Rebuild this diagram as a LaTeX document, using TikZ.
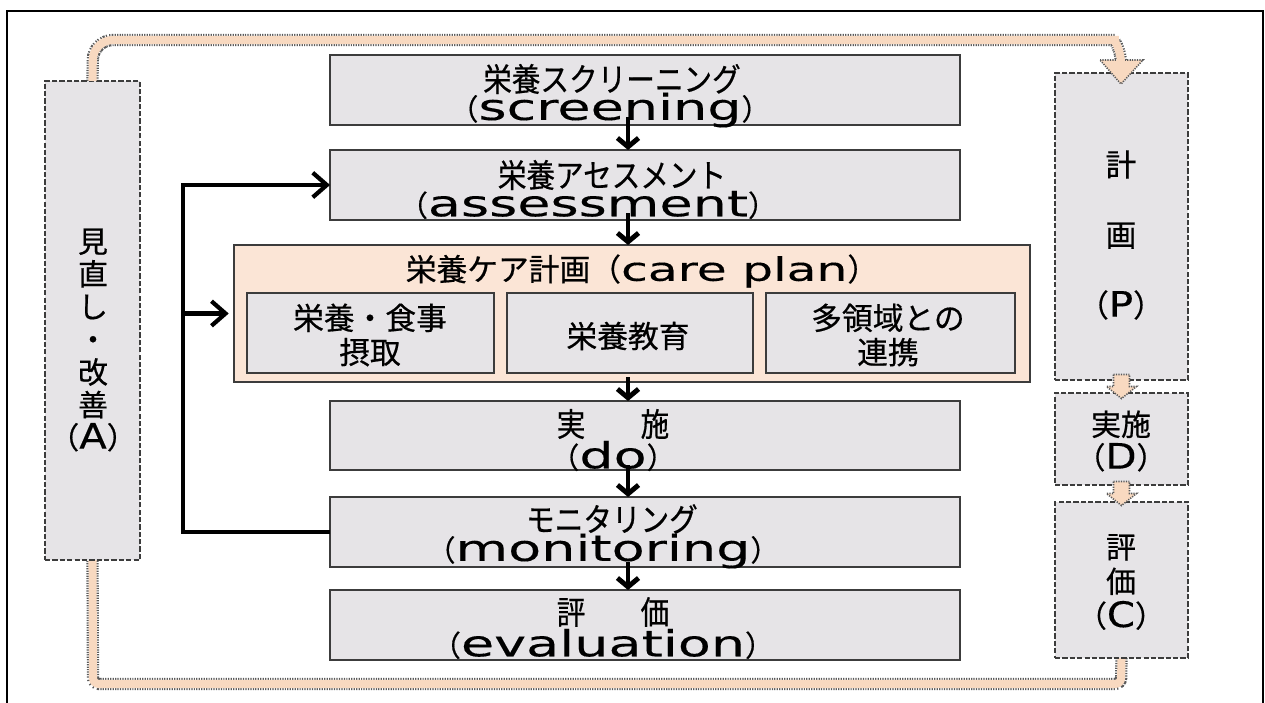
\documentclass[tikz,border=0pt]{standalone}
\usepackage{fontspec}
\setmainfont{Noto Sans CJK JP}[FakeBold=0.5]
\newfontfamily\jpn{Noto Sans CJK JP}[FakeBold=0.5,FakeStretch=0.88]
\newfontfamily\lat{DejaVu Sans}[FakeBold=0.3,FakeStretch=1.15]
\newfontfamily\latw{DejaVu Sans}[FakeBold=0.3,FakeStretch=1.5]
\newcommand\Lt[1]{{\lat\fontsize{20}{20}\selectfont #1}}
\newcommand\Lw[1]{{\latw\fontsize{20.5}{20.5}\selectfont #1}}
\newcommand\Ls[1]{{\latw\fontsize{18.5}{18.5}\selectfont #1}}
\usetikzlibrary{arrows.meta,calc,fit}
\definecolor{boxgray}{HTML}{E6E4E7}
\definecolor{peach}{HTML}{FBE5D6}
\definecolor{loopfill}{HTML}{F8D9C0}
\definecolor{edge}{HTML}{3C3C3C}
\definecolor{dotc}{HTML}{5A5A5A}
\pgfdeclarelayer{bg}
\pgfsetlayers{bg,main}
\begin{document}
\begin{tikzpicture}[x=0.02cm,y=-0.02cm,
  box/.style={draw=edge,line width=1.2pt,fill=boxgray,inner sep=0pt,outer sep=0pt},
  dbox/.style={draw=edge,line width=0.9pt,dash pattern=on 3pt off 1.2pt,fill=boxgray,inner sep=0pt,outer sep=0pt},
  cbox/.style={draw=edge,line width=1pt,fill=peach,inner sep=0pt,outer sep=0pt},
  txt/.style={font=\fontsize{16.5}{18.8}\selectfont,align=center,inner sep=0pt},
  head1/.style={txt,font=\jpn\fontsize{18.5}{20}\selectfont},
  down/.style={line width=2.8pt,-{Straight Barb[length=5pt,width=12pt]}},
  fbarrow/.style={line width=2.4pt,line join=miter,-{Straight Barb[length=8pt,width=14pt]}},
  loopout/.style={draw=dotc,line width=7pt,dash pattern=on 0.7pt off 0.7pt},
  loopin/.style={draw=loopfill,line width=4.6pt},
  headstyle/.style={fill=loopfill,draw=dotc,line width=0.9pt,dash pattern=on 0.7pt off 0.7pt},
  pics/barrow/.style={code={
    \filldraw[headstyle] (-8,-12) -- (8,-12) -- (8,0) -- (15,0) -- (0,12) -- (-15,0) -- (-8,0) -- cycle;}},
]
\useasboundingbox (0,0) rectangle (1265,703);
\begin{pgfonlayer}{bg}
\fill[white] (0,0) rectangle (1265,703);
\end{pgfonlayer}
\draw[line width=1.4pt] (7,710) -- (7,11) -- (1263,11) -- (1263,710);

% boxes
\node[box,fit={(330,55)(960,125)}] (scr) {};
\node[box,fit={(330,150)(960,220)}] (ass) {};
\node[cbox,fit={(234,245)(1030,382)}] (care) {};
\node[box,fit={(247,293)(494,373)}] (c1) {};
\node[box,fit={(507,293)(753,373)}] (c2) {};
\node[box,fit={(766,293)(1015,373)}] (c3) {};
\node[box,fit={(330,401)(960,470)}] (do) {};
\node[box,fit={(330,497)(960,567)}] (mon) {};
\node[box,fit={(330,590)(960,660)}] (ev) {};
\node[dbox,fit={(45,81)(140,560)}] (A) {};
\node[dbox,fit={(1055,73)(1188,380)}] (P) {};
\node[dbox,fit={(1055,393)(1188,485)}] (D) {};
\node[dbox,fit={(1055,502)(1188,658)}] (C) {};

% texts
\node[head1] (t1) at (612,79) {栄養スクリーニング};
\node[txt] (t2) at (610,110) {（\Lw{screening}）};
\node[head1] (t3) at (612,175) {栄養アセスメント};
\node[txt] (t4) at (588,205) {（\Lw{assessment}）};
\node[txt,font=\fontsize{17.5}{20}\selectfont] (t5) at (642,271) {栄養ケア計画（\Ls{care plan}）};
\node[txt,font=\fontsize{17.5}{19.5}\selectfont] (t6) at (370,335) {栄養・食事\\摂取};
\node[txt,font=\fontsize{17.5}{19.5}\selectfont] (t7) at (628,336) {栄養教育};
\node[txt,font=\fontsize{17.5}{19.5}\selectfont] (t8) at (888,335) {多領域との\\連携};
\node[head1] (t9) at (613,424) {実\hspace{1.7em}施};
\node[txt] (t10) at (613,456) {（\Lw{do}）};
\node[head1] (t11) at (612,519) {モニタリング};
\node[txt] (t12) at (603,551) {（\Lw{monitoring}）};
\node[head1] (t13) at (613,612) {評\hspace{1.7em}価};
\node[txt] (t14) at (603,644) {（\Lw{evaluation}）};
\node[txt,font=\fontsize{17}{18.6}\selectfont] (tA) at (93,340) {見\\直\\し\\・\\改\\善\\（\Lt{A}）};
\node[txt,font=\fontsize{17.5}{40}\selectfont] (tP) at (1121,235) {計\\画\\（\Lt{P}）};
\node[txt,font=\fontsize{17}{18.8}\selectfont] (tD) at (1121,441) {実施\\（\Lt{D}）};
\node[txt,font=\fontsize{17}{19.6}\selectfont] (tC) at (1121,582) {評\\価\\（\Lt{C}）};

% flow arrows
\coordinate (ax) at (628,0);
\draw[down] ($(ax |- scr.south)+(0,-8)$) -- (ax |- ass.north);
\draw[down] ($(ax |- ass.south)+(0,-7)$) -- (ax |- care.north);
\draw[down] ($(ax |- care.south)+(0,-5)$) -- (ax |- do.north);
\draw[down] ($(ax |- do.south)+(0,-5)$) -- (ax |- mon.north);
\draw[down] ($(ax |- mon.south)+(0,-5)$) -- (ax |- ev.north);

% feedback
\coordinate (fbx) at (183,0);
\draw[fbarrow] (mon.west) -| (fbx |- ass.west) -- (ass.west);
\draw[fbarrow,shorten >=3pt] (fbx |- care.west) -- (care.west);

% PDCA loop
\begin{pgfonlayer}{bg}
\draw[loopout,rounded corners=0.4cm] (A.north) -- (93,40) -- (1095,40) .. controls (1113,40) and (1121,48) .. (1121,64);
\draw[loopout,rounded corners=0.12cm] (C.south) -- (1121,684) -- (93,684) -- (A.south);
\draw[loopin,rounded corners=0.12cm] (C.south) -- (1121,684) -- (93,684) -- (A.south);
\end{pgfonlayer}
\filldraw[headstyle] (1100,60) -- (1143,60) -- (1121,84) -- cycle;
\draw[loopin,rounded corners=0.4cm] (A.north) -- (93,40) -- (1095,40) .. controls (1113,40) and (1121,48) .. (1121,64);
\pic at ($(P.south)!0.5!(D.north)$) {barrow};
\pic at ($(D.south)!0.5!(C.north)$) {barrow};
\end{tikzpicture}
\end{document}
